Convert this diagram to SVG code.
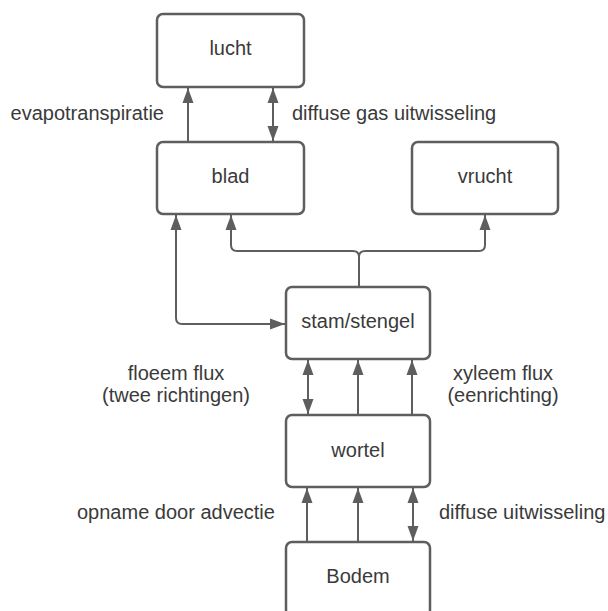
<svg xmlns="http://www.w3.org/2000/svg" width="608" height="611" viewBox="0 0 608 611">
<style>
.box{fill:#fff;stroke:#5e5e5e;stroke-width:2.5}
.lbl{font-family:"Liberation Sans",Arial,sans-serif;font-size:20px;fill:#3a3a3a}
.c{text-anchor:middle}
.e{text-anchor:end}
.con{fill:none;stroke:#5e5e5e;stroke-width:2}
</style>
<defs>
<marker id="ah" markerUnits="userSpaceOnUse" markerWidth="16" markerHeight="12" viewBox="0 0 16 12" refX="15" refY="6" orient="auto-start-reverse">
<path d="M0,0.5 L15,6 L0,11.5 Z" fill="#5e5e5e"/>
</marker>
</defs>
<rect width="608" height="611" fill="#fff"/>
<g id="connectors">
<path class="con" d="M188,142 V88" marker-end="url(#ah)"/>
<path class="con" d="M273,141 V88" marker-start="url(#ah)" marker-end="url(#ah)"/>
<path class="con" d="M359,287 V257 Q359,251 353,251 H237 Q231,251 231,245 V215" marker-end="url(#ah)"/>
<path class="con" d="M359,257 Q359,251 365,251 H479 Q485,251 485,245 V215" marker-end="url(#ah)"/>
<path class="con" d="M176,215 V318 Q176,324 182,324 H285" marker-start="url(#ah)" marker-end="url(#ah)"/>
<path class="con" d="M308,414 V360" marker-start="url(#ah)" marker-end="url(#ah)"/>
<path class="con" d="M358,415 V360" marker-end="url(#ah)"/>
<path class="con" d="M412,415 V360" marker-end="url(#ah)"/>
<path class="con" d="M307,542 V488" marker-end="url(#ah)"/>
<path class="con" d="M358,542 V488" marker-end="url(#ah)"/>
<path class="con" d="M413,541 V488" marker-start="url(#ah)" marker-end="url(#ah)"/>
</g>
<g id="lucht"><rect class="box" x="157" y="14" width="147" height="73" rx="6"/><text class="lbl c" x="230.5" y="55">lucht</text></g>
<g id="blad"><rect class="box" x="157" y="142" width="147" height="72" rx="6"/><text class="lbl c" x="230.5" y="183">blad</text></g>
<g id="vrucht"><rect class="box" x="412" y="142" width="146" height="72" rx="6"/><text class="lbl c" x="485" y="183">vrucht</text></g>
<g id="stam"><rect class="box" x="286" y="287" width="144" height="72" rx="6"/><text class="lbl c" x="358" y="328">stam/stengel</text></g>
<g id="wortel"><rect class="box" x="286" y="415" width="144" height="72" rx="6"/><text class="lbl c" x="358" y="457">wortel</text></g>
<g id="bodem"><rect class="box" x="286" y="542" width="144" height="74" rx="6"/><text class="lbl c" x="358" y="583">Bodem</text></g>
<g id="labels">
<text class="lbl e" x="164" y="120">evapotranspiratie</text>
<text class="lbl" x="292" y="120">diffuse gas uitwisseling</text>
<text class="lbl c" x="176" y="380">floeem flux</text>
<text class="lbl c" x="176" y="402">(twee richtingen)</text>
<text class="lbl c" x="503" y="380">xyleem flux</text>
<text class="lbl c" x="503" y="402">(eenrichting)</text>
<text class="lbl" x="77" y="519">opname door advectie</text>
<text class="lbl" x="439" y="519">diffuse uitwisseling</text>
</g>
</svg>
